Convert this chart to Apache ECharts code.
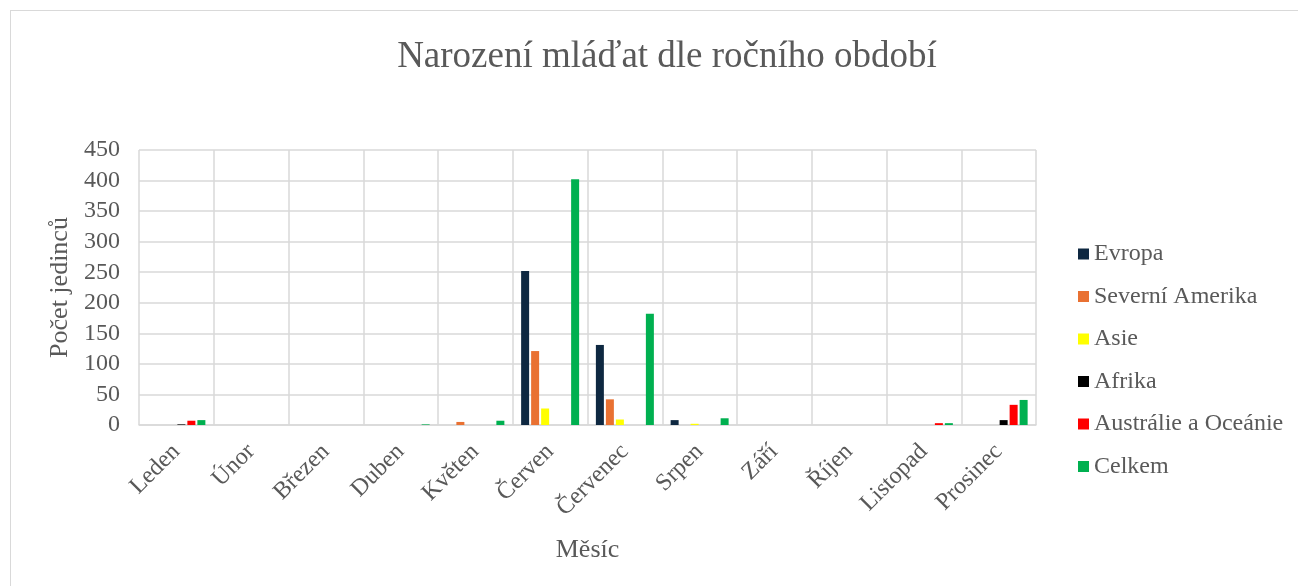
<!DOCTYPE html>
<html>
<head>
<meta charset="utf-8">
<script src="https://cdn.jsdelivr.net/npm/echarts@6/dist/echarts.min.js"></script>
<style>
  html, body { margin: 0; padding: 0; background: #fff; }
  #frame { position: absolute; left: 10px; top: 10px; width: 1400px; height: 700px; border: 1px solid #d9d9d9; box-sizing: border-box; }
  #chart { position: absolute; left: 0; top: 0; width: 1298px; height: 586px; }
</style>
</head>
<body>
<div id="frame"></div>
<div id="chart"></div>
<script>
// měsíce
var months = ["Leden", "Únor", "Březen", "Duben", "Květen", "Červen", "Červenec", "Srpen", "Září", "Říjen", "Listopad", "Prosinec"];

var evropa = [0, 0, 0, 0, 0, 252, 131, 8, 0, 0, 0, 0];
var severniAmerika = [0, 0, 0, 0, 5, 121, 42, 0, 0, 0, 0, 0];
var asie = [0, 0, 0, 0, 0, 27, 9, 2, 0, 0, 0, 0];
var afrika = [1, 0, 0, 0, 0, 0, 0, 0, 0, 0, 0, 8];
var australie = [7, 0, 0, 0, 0, 0, 0, 0, 0, 0, 3, 33];
var celkem = [8, 0, 0, 1, 7, 402, 182, 11, 0, 0, 3, 41];

var serif = "'Liberation Serif', 'Times New Roman', serif";
var grey = "#595959";

function bar(name, data, color) {
  return {
    name: name,
    type: "bar",
    data: data,
    barWidth: 8,
    barGap: "25%",
    itemStyle: { color: color }
  };
}

var chart = echarts.init(document.getElementById("chart"));
chart.setOption({
  animation: false,
  title: {
    text: "Narození mláďat dle ročního období",
    left: 662,
    top: 34,
    textAlign: "center",
    textStyle: { fontFamily: serif, fontSize: 37, fontWeight: "normal", color: grey }
  },
  legend: {
    orient: "vertical",
    left: 1073,
    top: 237,
    itemWidth: 11,
    itemHeight: 11,
    itemGap: 18.5,
    icon: "rect",
    textStyle: { fontFamily: serif, fontSize: 24, color: grey, lineHeight: 24 },
    data: ["Evropa", "Severní Amerika", "Asie", "Afrika", "Austrálie a Oceánie", "Celkem"]
  },
  grid: { left: 139, top: 150, width: 897, height: 275 },
  xAxis: {
    type: "category",
    data: months,
    name: "Měsíc",
    nameLocation: "middle",
    nameGap: 112,
    nameTextStyle: { fontFamily: serif, fontSize: 26, color: grey },
    axisLine: { lineStyle: { color: "#d9d9d9", width: 1.5 } },
    axisTick: { show: false },
    axisLabel: { rotate: 45, margin: 23, fontFamily: serif, fontSize: 24, color: grey, interval: 0 },
    splitLine: { show: true, interval: 0, lineStyle: { color: "#d9d9d9", width: 1.5 } }
  },
  yAxis: {
    type: "value",
    min: 0,
    max: 450,
    interval: 50,
    name: "Počet jedinců",
    nameLocation: "middle",
    nameGap: 64,
    nameTextStyle: { fontFamily: serif, fontSize: 26, color: grey },
    axisLine: { show: false },
    axisTick: { show: false },
    axisLabel: { fontFamily: serif, fontSize: 24, color: grey, margin: 19 },
    splitLine: { lineStyle: { color: "#d9d9d9", width: 1.5 } }
  },
  series: [
    bar("Evropa", evropa, "#0e2841"),
    bar("Severní Amerika", severniAmerika, "#e97132"),
    bar("Asie", asie, "#ffff00"),
    bar("Afrika", afrika, "#000000"),
    bar("Austrálie a Oceánie", australie, "#ff0000"),
    bar("Celkem", celkem, "#00b050")
  ]
});
</script>
</body>
</html>
